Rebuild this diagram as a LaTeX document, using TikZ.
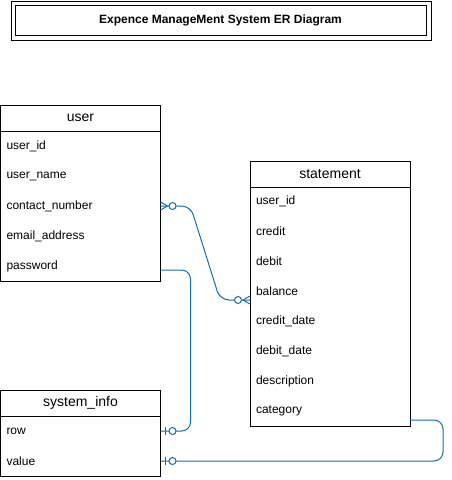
\documentclass[tikz,border=0pt]{standalone}
\usepackage{fontspec}
\setmainfont{Liberation Sans}
\definecolor{relblue}{RGB}{16,110,175}

\begin{document}
\begin{tikzpicture}[x=1pt, y=-1pt, line width=1pt,
	every node/.style={font=\fontsize{12}{14}\selectfont},
	head/.style={anchor=north west, draw, minimum width=160pt, minimum height=26pt, inner sep=0pt, outer sep=0pt, font=\fontsize{14}{16}\selectfont},
	field/.style={anchor=north west, minimum width=160pt, minimum height=30pt, text width=148pt, inner xsep=6pt, inner ysep=0pt, outer sep=0pt, align=left},
	rel/.style={relblue, rounded corners=9pt},
	ring/.style={relblue, fill=white},
	zmany/.pic={\draw[relblue] (0,-4) -- (7,0) -- (0,4); \draw[ring] (12,0) circle (3.5);},
	zone/.pic={\draw[relblue] (5,-4) -- (5,4); \draw[ring] (12,0) circle (3.5);}]
	\useasboundingbox (0,0) rectangle (452,480);

	% title
	\node[font=\bfseries\fontsize{12}{14}\selectfont] (title) at (220.5,20.5) {Expence ManageMent System ER Diagram};
	\draw (11,1) rectangle (431,40);
	\draw (15,5) rectangle (426,35);

	% user
	\node[head] (user) at (0.5,105) {user};
	\foreach \i/\t in {1/user\_id, 2/user\_name, 3/contact\_number, 4/email\_address, 5/password}
		\node[field] (user\i) at (0.5,{131+30*(\i-1)}) {\t};
	\draw (user.north west) rectangle (user5.south east);

	% statement
	\node[head] (stmt) at (250,161) {statement};
	\foreach \i/\t in {1/user\_id, 2/credit, 3/debit, 4/balance, 5/credit\_date, 6/debit\_date, 7/description, 8/category}
		\node[field] (stmt\i) at (250,{186+30*(\i-1)}) {\t};
	\draw (stmt.north west) rectangle (stmt8.south east);

	% system_info
	\node[head] (sys) at (0.5,390) {system\_info};
	\foreach \i/\t in {1/row, 2/value}
		\node[field] (sys\i) at (0.5,{416+30*(\i-1)}) {\t};
	\draw (sys.north west) rectangle (sys2.south east);

	% relations
	\draw[rel] (user3.east) -- ++(30,0) -- ([xshift=-30pt,yshift=-9pt]stmt4.west) -- ([yshift=-9pt]stmt4.west);
	\draw[rel] ([yshift=-4pt]user5.east) -- ++(30,0) |- (sys1.east);
	\draw[rel] ([yshift=-9pt]stmt8.east) -- ++(33,0) |- (sys2.east);

	\pic at (user3.east) {zmany};
	\pic[xscale=-1] at ([yshift=-9pt]stmt4.west) {zmany};
	\pic at (sys1.east) {zone};
	\pic at (sys2.east) {zone};
\end{tikzpicture}
\end{document}
